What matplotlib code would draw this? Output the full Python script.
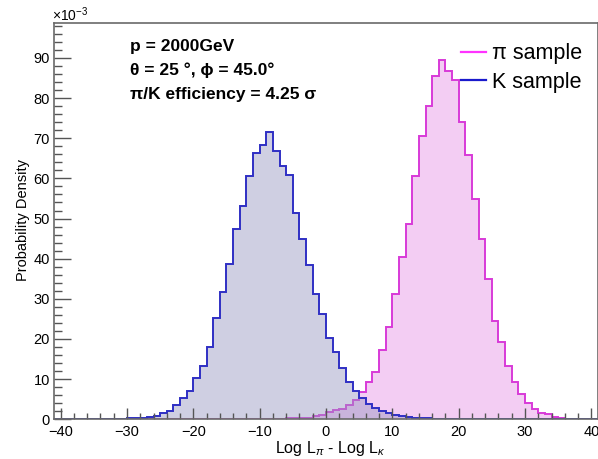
import numpy as np
import matplotlib
matplotlib.use("Agg")
import matplotlib.pyplot as plt
from matplotlib.lines import Line2D
from matplotlib.ticker import MultipleLocator

plt.rcParams["font.family"] = ["Liberation Sans", "DejaVu Sans"]
plt.rcParams["mathtext.fontset"] = "custom"
plt.rcParams["mathtext.rm"] = "Liberation Sans"
plt.rcParams["mathtext.it"] = "Liberation Sans:italic"

# histogram binning: unit bins from -41 to 41
bin_edges = np.arange(-41, 42)

# probability density (x 1e-3), one value per bin, left edge -41 ... 40
pi_density = [
    0, 0, 0, 0, 0, 0, 0, 0, 0, 0,                       # -41 .. -32
    0, 0, 0, 0, 0, 0, 0, 0, 0, 0,                       # -31 .. -22
    0, 0, 0, 0, 0, 0, 0, 0, 0, 0.05,                    # -21 .. -12
    0.05, 0.1, 0.1, 0.1, 0.15, 0.2, 0.2, 0.4, 0.4, 0.8,  # -11 .. -2
    1.1, 1.8, 2.3, 2.6, 3.6, 4.8, 6.8, 9.4, 11.9, 17.3,  # -1 .. 8
    23.1, 31.2, 40.4, 48.6, 60.5, 70.6, 78.1, 85.6, 89.4, 86.7,  # 9 .. 18
    84.4, 74.0, 65.8, 54.9, 45.0, 34.9, 24.6, 19.3, 13.3, 9.3,   # 19 .. 28
    6.4, 4.0, 2.6, 1.6, 1.2, 0.6, 0.25, 0.1, 0.1, 0,    # 29 .. 38
    0, 0,                                               # 39 .. 40
]
k_density = [
    0, 0, 0, 0, 0, 0, 0, 0.1, 0.1, 0,                   # -41 .. -32
    0.1, 0.2, 0.3, 0.4, 0.6, 0.8, 1.5, 2.1, 3.5, 5.2,    # -31 .. -22
    7.1, 10.4, 13.3, 18.1, 25.3, 31.7, 38.7, 47.5, 53.2, 60.5,   # -21 .. -12
    66.3, 68.4, 71.5, 66.9, 63.2, 60.9, 51.4, 45.0, 38.4, 31.3,  # -11 .. -2
    26.3, 20.2, 16.7, 12.7, 9.4, 7.1, 5.2, 3.8, 2.7, 2.1,        # -1 .. 8
    1.5, 1.1, 0.8, 0.6, 0.4, 0.3, 0.2, 0.1, 0, 0,        # 9 .. 18
    0, 0, 0, 0, 0, 0, 0, 0, 0, 0,                       # 19 .. 28
    0, 0, 0, 0, 0, 0, 0, 0, 0, 0,                       # 29 .. 38
    0, 0,                                               # 39 .. 40
]

info_lines = ["p = 2000GeV", "θ = 25 °, ϕ = 45.0°", "π/K efficiency = 4.25 σ"]
legend_labels = ["π sample", "K sample"]

PI_LINE, PI_FILL = "#d83ad8", "#f3cdf3"
K_LINE, K_FILL = "#2f2fc4", "#9696c0"
FRAME = "#6a6a6a"

W, H = 598, 459
fig = plt.figure(figsize=(W / 100, H / 100), dpi=100)
ax = fig.add_axes([54 / W, 1 - 419.3 / H, 544 / W, 396.3 / H])

ax.stairs(pi_density, bin_edges, fill=True, color=PI_FILL, lw=0)
ax.stairs(pi_density, bin_edges, color=PI_LINE, lw=1.4)
ax.stairs(k_density, bin_edges, fill=True, color=K_FILL, alpha=0.45, lw=0)
ax.stairs(k_density, bin_edges, color=K_LINE, lw=1.4)

ax.set_xlim(-41, 41)
ax.set_ylim(0, 98.7)
ax.xaxis.set_major_locator(MultipleLocator(10))
ax.xaxis.set_minor_locator(MultipleLocator(2))
ax.yaxis.set_major_locator(MultipleLocator(10))
ax.yaxis.set_minor_locator(MultipleLocator(2))
ax.tick_params(axis="both", which="both", direction="in", color="#555555",
               top=False, right=False, labelsize=10.5)
ax.tick_params(axis="x", which="major", length=8, width=1, pad=4)
ax.tick_params(axis="x", which="minor", length=4, width=1)
ax.tick_params(axis="y", which="major", length=12, width=1, pad=3)
ax.tick_params(axis="y", which="minor", length=6, width=1)
for sp in ax.spines.values():
    sp.set_color(FRAME)
    sp.set_linewidth(1.2)

ax.set_xlabel(r"Log L$_{\pi}$ - Log L$_{\kappa}$", fontsize=11.5, va="center")
ax.xaxis.set_label_coords(0.507, -0.074)
ax.set_ylabel("Probability Density", fontsize=10.5, va="center")
ax.yaxis.set_label_coords(-0.057, 0.503)

fig.text(52 / W, 1 - 15 / H, r"$\times$10$^{-3}$", fontsize=10, va="center", ha="left")

for i, line in enumerate(info_lines):
    fig.text(130 / W, 1 - (46.7 + 24 * i) / H, line, fontsize=12.5,
             fontweight="bold", va="center", ha="left")

handles = [Line2D([], [], color="#ff33ff", lw=1.6), Line2D([], [], color="#1a1acc", lw=1.6)]
fig.legend(handles, legend_labels, loc="upper left", bbox_to_anchor=(446 / W, 1 - 28 / H),
           frameon=False, fontsize=15.5, handlelength=1.15, handletextpad=0.3,
           labelspacing=0.35, borderpad=0.2)

fig.savefig("out.png", dpi=100)
